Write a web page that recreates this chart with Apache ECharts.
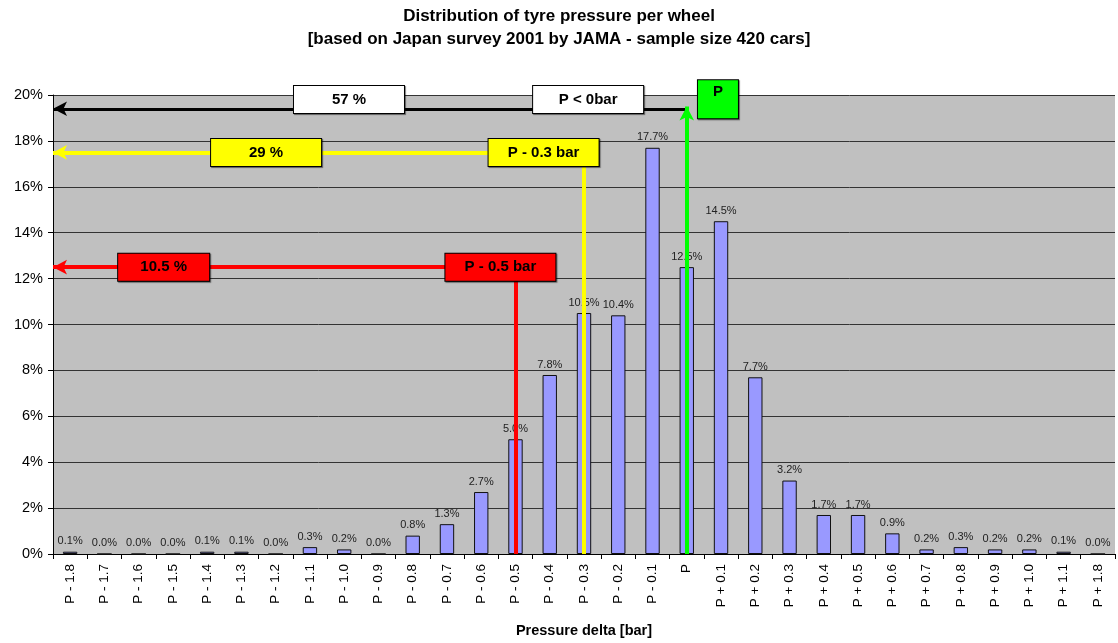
<!DOCTYPE html>
<html><head><meta charset="utf-8">
<script src="https://cdn.jsdelivr.net/npm/echarts@6/dist/echarts.min.js"></script>
<style>html,body{margin:0;padding:0;background:#fff}#c{width:1118px;height:643px}</style>
</head><body><div id="c"></div>
<script>
const categories = ['P - 1.8','P - 1.7','P - 1.6','P - 1.5','P - 1.4','P - 1.3','P - 1.2','P - 1.1','P - 1.0','P - 0.9','P - 0.8','P - 0.7','P - 0.6','P - 0.5','P - 0.4','P - 0.3','P - 0.2','P - 0.1','P','P + 0.1','P + 0.2','P + 0.3','P + 0.4','P + 0.5','P + 0.6','P + 0.7','P + 0.8','P + 0.9','P + 1.0','P + 1.1','P + 1.8'];
const shares = [0.1,0.0,0.0,0.0,0.1,0.1,0.0,0.3,0.2,0.0,0.8,1.3,2.7,5.0,7.8,10.5,10.4,17.7,12.5,14.5,7.7,3.2,1.7,1.7,0.9,0.2,0.3,0.2,0.2,0.1,0.0];
const yTicks = [0,2,4,6,8,10,12,14,16,18,20];
// annotation boxes
const boxTexts = ['57 %','P < 0bar','P','29 %','P - 0.3 bar','10.5 %','P - 0.5 bar'];
const boxX = [8.14,15.12,18.91,5.72,13.82,2.73,12.56];
const boxY = [19.8,19.8,20.64,17.5,17.5,12.49,12.49];
const boxFill = ['#ffffff','#ffffff','#00ff00','#ffff00','#ffff00','#ff0000','#ff0000'];
const boxW = [112,112,42,112,112,93,112];
const boxH = [29,29,36,29,29,29,29];

const chart = echarts.init(document.getElementById('c'));
const F = 'Liberation Sans, Arial, sans-serif';

function ml(x1,y1,x2,y2,color,w,arrow){
  return [{coord:[x1,y1],symbol:'none',lineStyle:{color:color,width:w,type:'solid',opacity:1}},
          {coord:[x2,y2],symbol:arrow?'arrow':'none',symbolSize:[11,14]}];
}

chart.setOption({
  animation:false,
  backgroundColor:'#fff',
  title:{text:'Distribution of tyre pressure per wheel\n[based on Japan survey 2001 by JAMA - sample size 420 cars]',
    left:'center',top:0,textStyle:{fontFamily:F,fontSize:17,fontWeight:'bold',color:'#000',lineHeight:23}},
  grid:{left:53,right:3,top:95,bottom:87,show:true,backgroundColor:'#c0c0c0',borderWidth:0},
  xAxis:[{type:'category',data:categories,
    axisLine:{lineStyle:{color:'#000'}},
    axisTick:{show:true,length:5,lineStyle:{color:'#000'}},
    axisLabel:{rotate:90,fontFamily:F,fontSize:13.5,color:'#000',margin:10,interval:0},
    name:'Pressure delta [bar]',nameLocation:'middle',nameGap:69,
    nameTextStyle:{fontFamily:F,fontSize:14.5,fontWeight:'bold',color:'#000'}},
    {type:'value',min:-0.5,max:30.5,show:false}],
  yAxis:{type:'value',min:0,max:20,interval:2,
    axisLine:{show:true,onZero:false,lineStyle:{color:'#000'}},
    axisTick:{show:true,length:5,lineStyle:{color:'#000'}},
    axisLabel:{formatter:'{value}%',fontFamily:F,fontSize:14.5,color:'#000',margin:10},
    splitLine:{lineStyle:{color:'#333',width:1}}},
  series:[
    {type:'bar',data:shares,barWidth:'42%',
     itemStyle:{color:'#9999ff',borderColor:'#111',borderWidth:1},
     label:{show:true,position:'top',distance:5,fontFamily:F,fontSize:11,color:'#222',
       formatter:p=>p.value.toFixed(1)+'%'},z:2},
    {type:'line',xAxisIndex:1,data:[],z:5,
     markLine:{silent:true,animation:false,label:{show:false},
       data:[
         ml(18,19.4,-0.5,19.4,'#000',3,true),
         ml(15,17.5,-0.5,17.5,'#ffff00',4,true),
         ml(15,17.5,15,0,'#ffff00',4,false),
         ml(13,12.5,-0.5,12.5,'#ff0000',4,true),
         ml(13,12.5,13,0,'#ff0000',4,false),
         ml(18,0,18,19.5,'#00ff00',4,true)
       ]}},
    {type:'scatter',xAxisIndex:1,symbolSize:0,z:10,clip:false,
     itemStyle:{opacity:1},
     emphasis:{disabled:true},
     data:boxTexts.map((t,i)=>({value:[boxX[i],boxY[i]],
       label:{show:true,position:'inside',formatter:t,opacity:1,
         backgroundColor:boxFill[i],borderColor:'#000',borderWidth:1,
         width:boxW[i]-2,height:boxH[i]-2,align:'center',verticalAlign:i===2?'top':'middle',
         padding:i===2?[4,0,0,0]:0,
         lineHeight:i===2?16:boxH[i]-2,
         fontFamily:F,fontSize:15,fontWeight:'bold',color:'#000',
         shadowColor:'rgba(0,0,0,0.5)',shadowOffsetX:1,shadowOffsetY:1,shadowBlur:1}}))}
  ]
});
</script></body></html>
